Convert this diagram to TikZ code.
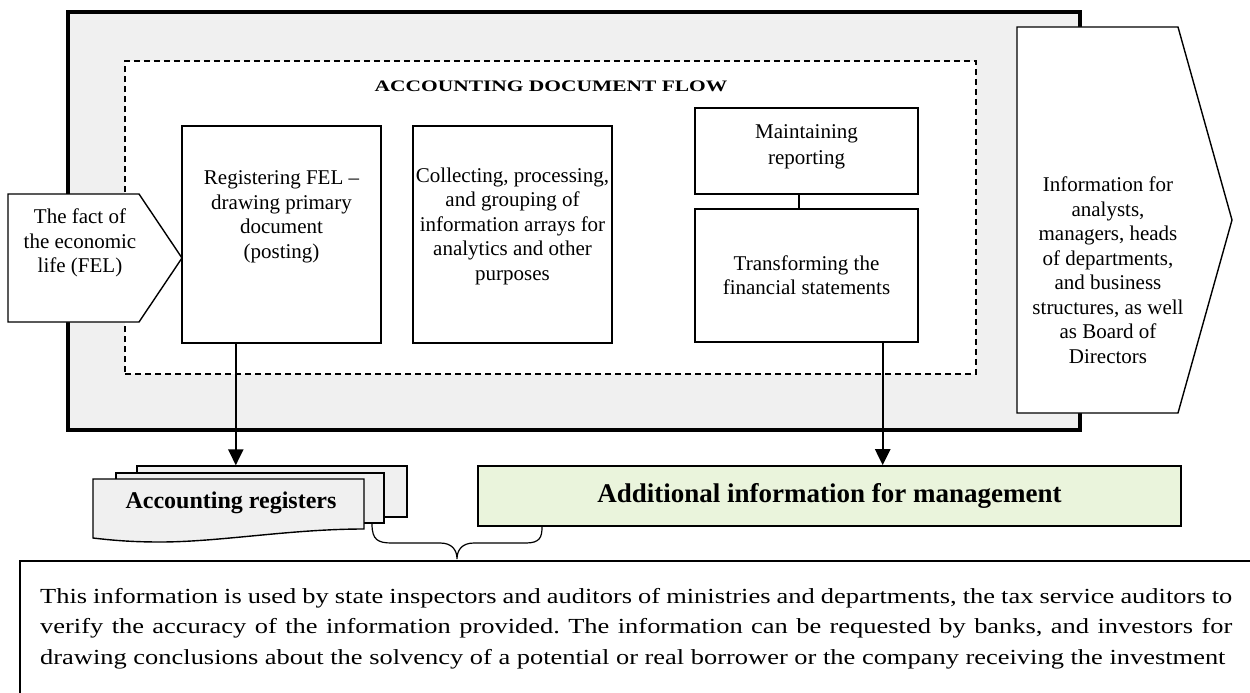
\documentclass[tikz,border=0pt]{standalone}
\usepackage{fontspec}
\setmainfont{Liberation Serif}
\newfontfamily\notefont{Liberation Serif}[FakeStretch=1.23]
\newfontfamily\titlefont{Liberation Serif}[FakeStretch=1.34]
\usetikzlibrary{arrows.meta}
\definecolor{panelgray}{HTML}{F0F0F0}
\definecolor{notegreen}{HTML}{EAF4DC}
\frenchspacing

\begin{document}
\begin{tikzpicture}[x=1pt,y=-1pt,
  box/.style={draw, line width=1.4pt, fill=white, inner sep=0pt},
  txt/.style={align=center, inner sep=0pt, font=\fontsize{21}{24.5}\selectfont},
  flow/.style={line width=2.4pt, -{Triangle[length=16pt,width=15pt]}},
  sheet/.style={draw, line width=1.4pt, fill=panelgray}
]
\clip (0,0) rectangle (1250,693);
\useasboundingbox (0,0) rectangle (1250,693);

% outer grey panel and dashed document-flow frame
\node[draw, line width=3.5pt, fill=panelgray, minimum width=1012pt, minimum height=418pt, inner sep=0pt] (panel) at (574,221) {};
\node[draw, line width=1.3pt, dash pattern=on 6pt off 4pt, fill=white, minimum width=851pt, minimum height=313pt, inner sep=0pt] (flowframe) at (550.5,217.5) {};
\node[inner sep=0pt, font=\titlefont\fontsize{16}{20}\selectfont\bfseries] (title) at (551,86) {ACCOUNTING DOCUMENT FLOW};

% process boxes
\node[box, minimum width=199pt, minimum height=217pt] (reg) at (281.5,234.5) {};
\node[txt] (regtext) at (281.5,217) {Registering FEL –\\drawing primary\\document\\(posting)};
\node[box, minimum width=199pt, minimum height=217pt] (coll) at (512.5,234.5) {};
\node[txt] (colltext) at (512.5,226) {Collecting, processing,\\and grouping of\\information arrays for\\analytics and other\\purposes};
\node[box, minimum width=223pt, minimum height=86pt] (maint) at (806.5,151) {};
\node[txt, font=\fontsize{21}{26}\selectfont] (mainttext) at (806.5,147) {Maintaining\\reporting};
\node[box, minimum width=223pt, minimum height=133pt] (trans) at (806.5,275.5) {};
\node[txt] (transtext) at (806.5,275) {Transforming the\\financial statements};
\draw[line width=1.4pt] ([xshift=-7.5pt]maint.south) -- ([xshift=-7.5pt]trans.north);

% incoming fact of economic life
\draw[line width=1.4pt, fill=white] (8,194) -- (139,194) -- (182,258) -- (139,322) -- (8,322) -- cycle;
\node[txt] (fel) at (80,243) {The fact of\\the economic\\life (FEL)};

% outgoing information for management
\draw[line width=1.4pt, fill=white] (1017,27) -- (1178,27) -- (1232,220) -- (1178,413) -- (1017,413) -- cycle;
\node[txt] (users) at (1108,270) {Information for\\analysts,\\managers, heads\\of departments,\\and business\\structures, as well\\as Board of\\Directors};

% accounting registers (stacked sheets)
\node[sheet, minimum width=270pt, minimum height=51pt, inner sep=0pt] (regback) at (272,491.5) {};
\node[sheet, minimum width=268pt, minimum height=50pt, inner sep=0pt] (regmid) at (250,498) {};
\draw[sheet] (93,479) -- (364,479) -- (364,529)
  .. controls (290,529) and (220,542) .. (160,542)
  .. controls (130,542) and (110,540) .. (93,538) -- cycle;
\node[inner sep=0pt, font=\fontsize{24}{28}\selectfont\bfseries] (regname) at (231,503) {Accounting registers};

% additional information for management
\node[draw, line width=1.6pt, fill=notegreen, minimum width=703pt, minimum height=60pt, inner sep=0pt,
      font=\fontsize{27}{30}\selectfont\bfseries] (addinfo) at (829.5,496) {Additional information for management};

% flows out of the panel
\draw[flow] ([xshift=54.5pt]reg.south west) -- ([xshift=54.5pt]reg.south west |- regback.north);
\draw[flow] ([xshift=-36pt]trans.south east) -- ([xshift=-36pt]trans.south east |- addinfo.north);

% brace joining both outputs
\coordinate (bl) at (372,524);
\coordinate (br) at (542,527);
\coordinate (btip) at (457,559);
\draw[line width=1.2pt] (bl) .. controls (372,540) and (378,543) .. (392,543) -- (440,543)
  .. controls (452,543) and (457,550) .. (btip)
  .. controls (457,550) and (462,543) .. (474,543) -- (526,543)
  .. controls (540,543) and (542,537) .. (br);

% note on external users
\node[draw, line width=1.5pt, minimum width=1260pt, minimum height=150pt, inner sep=0pt, anchor=north west] (notebox) at (19,560) {};
\node[inner sep=0pt, anchor=north west, align=left,
      font=\notefont\fontsize{21.5}{30.5}\selectfont] (notetext) at (40,588)
  {\makebox[1192pt][s]{This information is used by state inspectors and auditors of ministries and departments, the tax service auditors to}\\
   \makebox[1192pt][s]{verify the accuracy of the information provided. The information can be requested by banks, and investors for}\\
   drawing conclusions about the solvency of a potential or real borrower or the company receiving the investment};
\end{tikzpicture}
\end{document}
